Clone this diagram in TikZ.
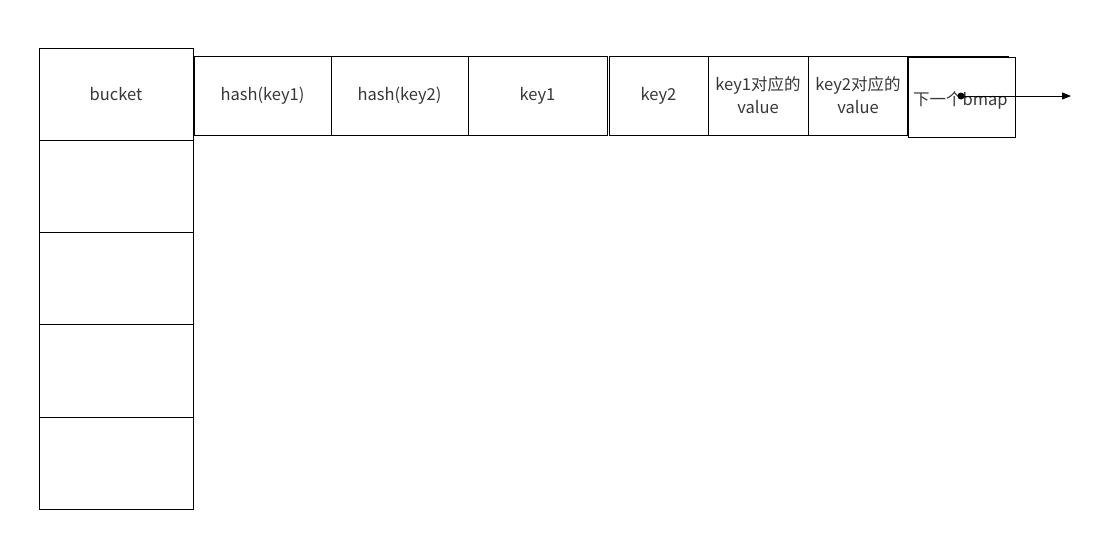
\documentclass[tikz,border=0pt]{standalone}
\usepackage{fontspec}
\setmainfont{Noto Sans CJK SC}
\usetikzlibrary{arrows.meta}
\newcommand{\dn}[2][3pt]{\raisebox{-#1}{#2}}
\begin{document}
\begin{tikzpicture}[x=1pt,y=-1pt,
  cell/.style={draw=black,line width=0.9pt,fill=white,inner sep=0pt,text=black!78,font=\fontsize{16.5}{23}\selectfont,align=center},
  conn/.style={draw=black,line width=0.9pt,-{Triangle[length=9pt,width=7pt]}}]
\useasboundingbox (0,0) rectangle (1105,539);
% bucket column
\node[cell,minimum width=154pt,minimum height=92pt] (b0) at (116,94) {\dn[2pt]{bucket}};
\node[cell,minimum width=154pt,minimum height=92pt] (b1) at (116,186) {};
\node[cell,minimum width=154pt,minimum height=92pt] (b2) at (116,278) {};
\node[cell,minimum width=154pt,minimum height=93pt] (b3) at (116,370.5) {};
\node[cell,minimum width=154pt,minimum height=92pt] (b4) at (116,463) {};
% row
\node[cell,minimum width=137pt,minimum height=79pt] (h1) at (262.5,95.5) {\dn{hash(key1)}};
\node[cell,minimum width=137pt,minimum height=79pt] (h2) at (399.5,95.5) {\dn{hash(key2)}};
\node[cell,minimum width=139pt,minimum height=79pt] (k1) at (537.5,95.5) {\dn{key1}};
\node[cell,minimum width=99pt,minimum height=79pt] (k2) at (658.5,95.5) {\dn{key2}};
\node[cell,minimum width=100pt,minimum height=79pt] (v1) at (758,95.5) {key1对应的\\value};
\node[cell,minimum width=100pt,minimum height=79pt] (v2) at (858,95.5) {key2对应的\\value};
\node[cell,minimum width=101pt,minimum height=79pt] (nb) at (957.5,95.5) {};
\node[cell,minimum width=107pt,minimum height=80pt] (nx) at (961.5,97.5) {};
\node[anchor=base west,inner sep=0pt,text=black!78,font=\fontsize{16.5}{20}\selectfont] (nt) at (913,105) {下一个bmap};
\fill (961,96) circle (3.5pt) coordinate (dot);
\coordinate (end) at (1071,96);
\draw[conn] (dot) -- (end);
\end{tikzpicture}
\end{document}
